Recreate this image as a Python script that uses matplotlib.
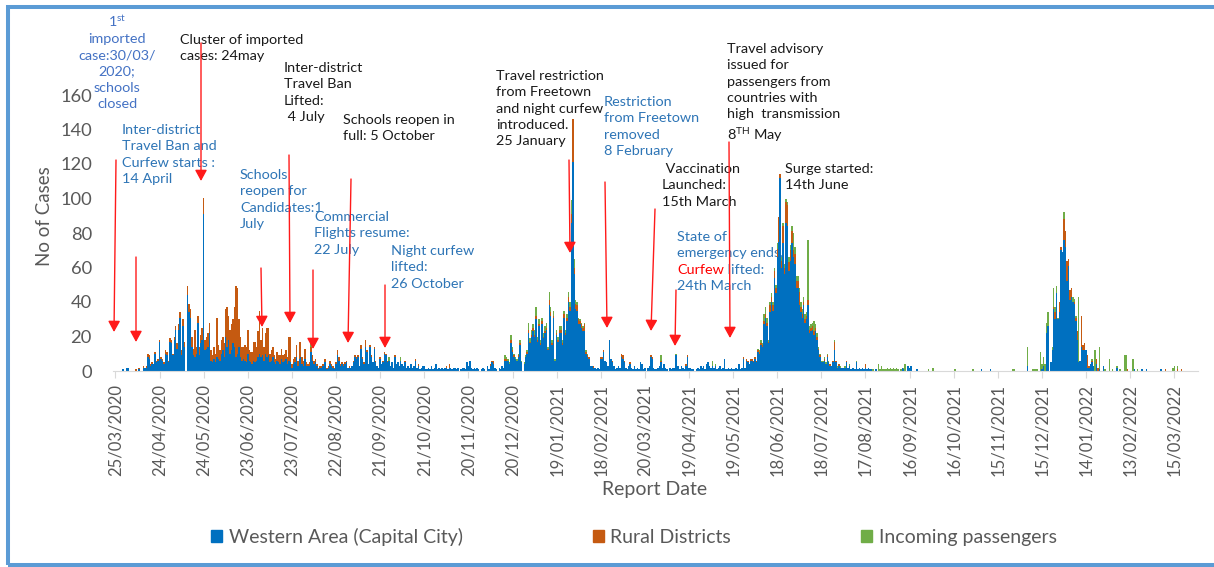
import numpy as np
import pandas as pd
import matplotlib
matplotlib.use("Agg")
import matplotlib.pyplot as plt
from matplotlib.patches import Patch, Rectangle

plt.rcParams['font.family'] = ['Lato', 'DejaVu Sans']
plt.rcParams['mathtext.default'] = 'regular'

# daily confirmed cases, 25/03/2020 onwards
western = [
    0, 0, 0, 0, 0, 1, 0, 0, 2, 2,
    0, 0, 0, 0, 0, 0, 1, 0, 0, 2,
    2, 2, 8, 7, 3, 4, 4, 10, 5, 6,
    17, 7, 6, 4, 10, 9, 5, 17, 16, 9,
    18, 24, 13, 24, 31, 9, 26, 14, 0, 44, 34,
    31, 14, 9, 8, 10, 28, 9, 16, 18, 91,
    12, 13, 14, 22, 6, 5, 7, 5, 8, 7,
    6, 10, 12, 8, 20, 14, 18, 10, 12, 16,
    14, 8, 10, 14, 8, 6, 7, 6, 5, 10,
    6, 5, 4, 6, 5, 6, 8, 10, 8, 9,
    6, 10, 8, 9, 5, 6, 8, 5, 4, 6,
    5, 4, 7, 5, 6, 7, 4, 6, 5, 2,
    4, 5, 8, 3, 7, 8, 4, 3, 7, 3,
    3, 3, 11, 6, 4, 5, 3, 1, 2, 2,
    3, 5, 5, 1, 2, 4, 3, 2, 1, 4,
    9, 6, 3, 4, 3, 4, 5, 2, 2, 2,
    3, 5, 8, 7, 8, 3, 13, 7, 4, 14,
    11, 4, 14, 8, 5, 13, 5, 3, 2, 7, 4,
    5, 10, 9, 5, 6, 3, 5, 2, 8, 4,
    5, 3, 6, 4, 3, 5, 2, 3, 2, 4,
    2, 3, 6, 2, 3, 1, 2, 3, 3, 1,
    1, 2, 1, 3, 1, 2, 4, 1, 2, 1,
    2, 1, 2, 2, 1, 2, 2, 1, 2, 2,
    1, 2, 0, 1, 2, 2, 1, 5, 3, 6,
    2, 1, 2, 1, 2, 1, 0, 1, 2, 1, 0,
    3, 1, 3, 5, 4, 2, 1, 0, 2, 1,
    3, 2, 6, 6, 6, 4, 16, 11, 8, 7,
    6, 8, 15, 5, 0, 4, 8, 10, 22, 16,
    20, 23, 20, 30, 17, 26, 15, 27, 19, 22,
    24, 12, 38, 32, 15, 31, 6, 21, 17, 22,
    22, 15, 31, 21, 29, 40, 35, 86, 121, 56,
    36, 35, 27, 27, 25, 23, 23, 10, 8, 7,
    3, 3, 2, 2, 1, 2, 1, 7, 7, 11,
    6, 5, 3, 18, 7, 5, 3, 1, 2, 3,
    2, 8, 7, 5, 2, 1, 3, 4, 2, 1,
    3, 1, 2, 1, 5, 4, 1, 2, 0, 2,
    3, 8, 7, 2, 1, 1, 2, 3, 5, 2,
    4, 2, 1, 0, 2, 1, 2, 2, 9, 3,
    3, 1, 3, 2, 1, 3, 8, 2, 2, 1,
    1, 0, 1, 2, 1, 3, 2, 3, 1, 4,
    5, 3, 2, 3, 2, 3, 1, 2, 3, 1,
    2, 7, 1, 1, 2, 1, 2, 1, 1, 2, 1,
    4, 1, 2, 7, 2, 6, 5, 4, 6, 6,
    5, 7, 5, 11, 10, 15, 14, 27, 31, 26,
    16, 34, 40, 35, 54, 45, 66, 75, 112, 60,
    74, 56, 86, 84, 58, 64, 74, 66, 62, 48,
    48, 38, 34, 31, 38, 28, 30, 38, 22, 23,
    24, 21, 23, 18, 12, 8, 5, 5, 6, 4,
    8, 5, 3, 3, 5, 12, 5, 2, 3, 2,
    2, 2, 2, 5, 2, 3, 1, 2, 2, 1,
    5, 1, 2, 1, 2, 1, 2, 1, 2, 1,
    1, 0, 0, 1, 0, 0, 0, 0, 0, 0,
    0, 0, 0, 0, 0, 0, 0, 0, 0, 0, 0,
    2, 1, 0, 0, 3, 2, 3, 0, 0, 0,
    1, 0, 0, 0, 0, 0, 0, 0, 0, 0,
    0, 0, 0, 0, 0, 0, 0, 0, 0, 0,
    0, 0, 0, 0, 0, 0, 0, 0, 0, 0,
    0, 0, 0, 0, 0, 0, 0, 0, 0, 0,
    0, 0, 0, 0, 1, 0, 0, 0, 0, 0,
    1, 0, 0, 0, 0, 0, 0, 0, 0, 0,
    0, 0, 0, 0, 0, 0, 0, 0, 0, 0,
    0, 0, 0, 0, 0, 3, 0, 0, 0, 0, 0,
    0, 0, 0, 0, 1, 3, 0, 22, 26, 0,
    5, 12, 36, 30, 45, 30, 34, 70, 69, 76,
    72, 52, 61, 41, 43, 40, 39, 29, 18, 5,
    6, 14, 12, 12, 12, 2, 2, 4, 5, 3,
    0, 4, 0, 1, 0, 0, 3, 0, 0, 0,
    0, 0, 0, 0, 0, 2, 0, 0, 0, 0,
    0, 0, 0, 0, 0, 0, 0, 1, 0, 0,
    0, 0, 1, 0, 0, 1, 0, 0, 0, 0,
    0, 0, 0, 0, 0, 1, 0, 0, 0, 0,
    0, 0, 0, 0, 0, 0, 0, 0, 0, 0,
    0, 0, 0, 0, 0, 0, 0, 0, 0, 0,
]

rural = [
    0, 0, 0, 0, 0, 0, 0, 0, 0, 0,
    0, 0, 0, 0, 1, 0, 1, 0, 0, 1,
    0, 1, 2, 2, 1, 1, 0, 1, 1, 1,
    1, 1, 1, 1, 2, 2, 1, 2, 2, 1,
    2, 2, 3, 3, 3, 3, 4, 3, 0, 5, 5,
    5, 6, 4, 16, 4, 4, 5, 5, 7, 9,
    6, 7, 8, 6, 6, 4, 7, 5, 23, 8,
    6, 8, 8, 8, 16, 23, 14, 14, 15, 14,
    23, 41, 38, 16, 12, 8, 7, 9, 9, 14,
    6, 6, 7, 11, 12, 8, 15, 25, 10, 16,
    8, 12, 17, 16, 5, 6, 6, 4, 3, 5,
    4, 5, 6, 4, 4, 5, 4, 14, 15, 2,
    3, 3, 7, 3, 10, 9, 4, 3, 6, 2,
    1, 2, 3, 3, 2, 2, 1, 1, 1, 1,
    1, 2, 2, 1, 1, 2, 1, 1, 1, 1,
    3, 2, 1, 1, 1, 1, 1, 0, 1, 0,
    0, 1, 1, 1, 1, 0, 2, 1, 1, 4,
    1, 0, 1, 1, 0, 1, 1, 0, 0, 1, 0,
    1, 1, 1, 1, 0, 0, 0, 0, 1, 0,
    0, 0, 0, 0, 0, 1, 0, 0, 0, 0,
    0, 0, 1, 0, 1, 0, 0, 0, 0, 0,
    0, 0, 0, 0, 0, 0, 0, 0, 0, 0,
    0, 0, 0, 1, 0, 2, 0, 0, 0, 0,
    0, 0, 0, 0, 0, 0, 0, 0, 0, 0,
    0, 0, 0, 0, 0, 0, 0, 0, 0, 0, 0,
    0, 0, 1, 1, 2, 0, 0, 0, 0, 0,
    0, 0, 1, 1, 0, 0, 2, 1, 1, 0,
    0, 1, 1, 0, 0, 0, 0, 1, 2, 1,
    1, 2, 1, 2, 1, 1, 1, 2, 1, 1,
    1, 1, 3, 2, 1, 1, 0, 1, 1, 2,
    2, 1, 2, 1, 2, 3, 2, 5, 25, 4,
    3, 3, 3, 2, 2, 2, 4, 1, 1, 1,
    0, 0, 1, 0, 0, 0, 0, 1, 1, 1,
    0, 0, 0, 0, 0, 1, 0, 0, 0, 0,
    0, 2, 2, 1, 0, 0, 0, 1, 0, 0,
    0, 0, 0, 0, 0, 0, 0, 0, 0, 0,
    0, 1, 1, 0, 0, 0, 0, 0, 1, 0,
    0, 0, 0, 0, 0, 0, 0, 0, 0, 0,
    0, 0, 0, 0, 0, 1, 1, 0, 0, 0,
    0, 0, 0, 0, 0, 0, 0, 0, 0, 0,
    0, 0, 0, 0, 0, 0, 0, 0, 0, 0,
    0, 0, 0, 0, 0, 0, 0, 0, 0, 0, 0,
    0, 0, 0, 1, 0, 1, 1, 0, 1, 1,
    1, 1, 1, 1, 1, 1, 1, 2, 2, 2,
    1, 4, 3, 3, 4, 3, 5, 14, 2, 4,
    10, 4, 12, 12, 5, 6, 7, 4, 6, 4,
    4, 8, 3, 2, 2, 2, 2, 3, 2, 2,
    2, 2, 2, 2, 1, 1, 0, 0, 1, 0,
    1, 0, 1, 0, 1, 5, 1, 0, 1, 0,
    0, 0, 0, 1, 0, 0, 0, 0, 0, 0,
    0, 0, 0, 0, 0, 0, 2, 0, 0, 0,
    0, 0, 0, 0, 0, 0, 0, 0, 0, 0,
    0, 0, 0, 0, 0, 0, 0, 0, 0, 0, 0,
    0, 0, 0, 0, 0, 0, 0, 0, 0, 0,
    0, 0, 0, 0, 0, 0, 0, 0, 0, 0,
    0, 0, 0, 0, 0, 0, 0, 0, 0, 0,
    0, 0, 0, 0, 0, 0, 0, 0, 0, 0,
    0, 0, 0, 0, 0, 0, 0, 0, 0, 0,
    0, 0, 0, 0, 0, 0, 0, 0, 0, 0,
    0, 0, 0, 0, 0, 0, 0, 0, 0, 0,
    0, 0, 0, 0, 0, 0, 0, 0, 0, 0,
    0, 0, 0, 0, 0, 0, 0, 0, 0, 0, 0,
    0, 0, 0, 0, 0, 0, 0, 0, 0, 0,
    0, 0, 1, 4, 0, 0, 6, 2, 0, 12,
    9, 12, 4, 6, 5, 0, 1, 2, 5, 0,
    0, 18, 3, 4, 0, 7, 1, 0, 1, 0,
    0, 3, 2, 0, 0, 0, 0, 0, 0, 0,
    0, 0, 0, 0, 0, 0, 0, 0, 0, 0,
    0, 0, 1, 0, 0, 0, 0, 0, 0, 0,
    0, 0, 0, 0, 0, 0, 0, 0, 0, 0,
    0, 0, 0, 0, 0, 0, 0, 0, 1, 0,
    0, 0, 0, 0, 0, 0, 1, 0, 0, 1,
    0, 0, 0, 0, 0, 0, 0, 0, 0, 0,
]

incoming = [
    0, 0, 0, 0, 0, 0, 0, 0, 0, 0,
    0, 0, 0, 0, 0, 0, 0, 0, 0, 0,
    0, 0, 0, 0, 0, 0, 0, 0, 0, 0,
    0, 0, 0, 0, 0, 0, 0, 0, 0, 0,
    0, 0, 0, 0, 0, 0, 0, 0, 0, 0, 0,
    0, 0, 0, 0, 0, 0, 0, 0, 0, 0,
    0, 0, 0, 0, 0, 0, 0, 0, 0, 0,
    0, 0, 0, 0, 0, 0, 0, 0, 0, 0,
    0, 0, 0, 0, 0, 0, 0, 0, 0, 0,
    0, 0, 0, 0, 0, 0, 0, 0, 0, 0,
    0, 0, 0, 0, 0, 0, 0, 0, 0, 0,
    0, 0, 0, 0, 0, 0, 0, 0, 0, 0,
    0, 0, 0, 0, 0, 0, 0, 0, 0, 0,
    0, 0, 2, 0, 0, 0, 0, 0, 0, 0,
    0, 0, 0, 0, 0, 0, 0, 0, 0, 0,
    0, 0, 0, 0, 0, 0, 0, 0, 0, 0,
    0, 0, 0, 0, 0, 0, 0, 0, 0, 0,
    0, 0, 0, 0, 0, 0, 0, 0, 0, 0, 0,
    0, 0, 0, 0, 2, 0, 0, 0, 0, 0,
    0, 0, 2, 0, 0, 0, 0, 0, 0, 0,
    0, 0, 0, 0, 0, 0, 0, 0, 0, 0,
    0, 0, 0, 0, 0, 0, 0, 0, 0, 0,
    0, 0, 0, 0, 0, 0, 0, 0, 0, 0,
    0, 0, 0, 0, 0, 0, 0, 0, 0, 0,
    0, 0, 0, 0, 0, 0, 0, 0, 0, 0, 0,
    0, 0, 0, 0, 0, 0, 0, 0, 0, 0,
    0, 0, 2, 1, 1, 1, 3, 2, 1, 1,
    1, 1, 2, 1, 0, 1, 1, 1, 4, 2,
    3, 2, 3, 5, 2, 3, 2, 2, 2, 3,
    3, 1, 5, 3, 2, 3, 1, 2, 2, 2,
    2, 2, 2, 2, 2, 3, 3, 8, 0, 5,
    2, 2, 1, 1, 1, 1, 1, 1, 1, 0,
    0, 0, 0, 0, 0, 0, 0, 0, 0, 0,
    0, 0, 0, 0, 0, 0, 0, 0, 0, 0,
    0, 0, 0, 0, 0, 0, 0, 0, 0, 0,
    0, 0, 0, 0, 0, 0, 0, 0, 0, 0,
    0, 0, 0, 0, 0, 0, 0, 0, 3, 0,
    0, 0, 0, 0, 0, 0, 0, 0, 1, 0,
    0, 0, 0, 0, 0, 0, 0, 0, 0, 0,
    0, 0, 0, 0, 0, 0, 0, 0, 0, 0,
    0, 0, 0, 3, 0, 1, 0, 0, 0, 0,
    0, 0, 0, 0, 0, 0, 0, 0, 0, 0, 0,
    0, 0, 0, 0, 0, 0, 0, 0, 0, 0,
    0, 0, 0, 1, 1, 2, 1, 4, 4, 3,
    1, 2, 2, 2, 2, 2, 3, 0, 0, 2,
    2, 2, 2, 2, 3, 3, 3, 10, 4, 3,
    3, 2, 3, 3, 3, 3, 2, 35, 2, 2,
    2, 6, 2, 2, 1, 1, 1, 1, 1, 1,
    1, 1, 0, 0, 0, 1, 0, 1, 0, 1,
    0, 0, 1, 0, 0, 1, 0, 0, 0, 0,
    1, 0, 0, 0, 0, 0, 0, 0, 0, 0,
    0, 1, 0, 0, 0, 4, 1, 3, 1, 1,
    1, 2, 1, 2, 1, 2, 1, 2, 1, 0, 1,
    0, 1, 4, 0, 0, 0, 0, 0, 0, 0,
    0, 0, 0, 0, 0, 0, 0, 0, 1, 0,
    0, 2, 0, 0, 0, 0, 0, 0, 0, 0,
    0, 0, 0, 0, 0, 0, 1, 0, 0, 0,
    0, 0, 0, 0, 0, 0, 0, 0, 1, 0,
    0, 0, 0, 0, 0, 0, 0, 0, 0, 0,
    0, 0, 0, 0, 0, 0, 0, 0, 0, 0,
    0, 0, 0, 0, 0, 1, 1, 0, 0, 0,
    0, 0, 0, 0, 0, 11, 0, 0, 0, 1, 1,
    1, 1, 0, 11, 3, 5, 4, 6, 8, 0,
    0, 2, 11, 3, 4, 1, 0, 0, 0, 4,
    0, 0, 0, 0, 0, 3, 2, 1, 0, 38,
    0, 0, 0, 0, 0, 0, 0, 0, 1, 0,
    12, 0, 0, 13, 0, 0, 0, 1, 0, 0,
    7, 0, 1, 0, 0, 1, 0, 1, 0, 0,
    9, 9, 0, 0, 0, 0, 7, 0, 0, 1,
    0, 0, 0, 0, 0, 0, 0, 0, 0, 0,
    0, 0, 0, 0, 0, 0, 0, 0, 0, 0,
    0, 0, 0, 2, 3, 0, 2, 0, 0, 0,
    0, 0, 0, 0, 0, 0, 0, 0, 0, 0,
]

series_names = ['Western Area (Capital City)', 'Rural Districts', 'Incoming passengers']
series_colors = ['#0070C0', '#C55A11', '#70AD47']
start_date = '2020-03-25'
tick_step = 30

n = min(len(western), len(rural), len(incoming))
w = np.array(western[:n])
r = np.array(rural[:n])
inc = np.array(incoming[:n])
days = np.arange(n)
dates = pd.date_range(start_date, periods=n, freq='D')

W_PX, H_PX = 1214, 567
fig = plt.figure(figsize=(W_PX / 100, H_PX / 100), dpi=100)
ax = fig.add_axes([112.8 / W_PX, 1 - 371 / H_PX, (1198 - 112.8) / W_PX, (371 - 95) / H_PX])

ax.bar(days, w, width=1.0, color=series_colors[0], lw=0, zorder=2)
ax.bar(days, r, width=1.0, bottom=w, color=series_colors[1], lw=0, zorder=2)
ax.bar(days, inc, width=1.0, bottom=w + r, color=series_colors[2], lw=0, zorder=2)

ax.set_xlim(-1.8, 736.1)
ax.set_ylim(0, 160)
ticks = days[::tick_step]
ax.set_xticks(ticks)
ax.set_xticklabels(dates[::tick_step].strftime('%d/%m/%Y'), rotation=90)
ax.set_yticks(np.arange(0, 161, 20))
for s in ['top', 'right', 'left']:
    ax.spines[s].set_visible(False)
ax.spines['bottom'].set_color('#D9D9D9')
ax.tick_params(axis='x', length=5, color='#D9D9D9', labelcolor='#595959', labelsize=12, pad=4)
ax.tick_params(axis='y', length=0, labelcolor='#595959', labelsize=13.2, pad=15)
ax.set_facecolor('none')

fig.text(45 / W_PX, 1 - 216 / H_PX, 'No of Cases', rotation=90, ha='center', va='center',
         fontsize=13.5, color='#595959')
fig.text(655 / W_PX, 1 - 489 / H_PX, 'Report Date', ha='center', va='center',
         fontsize=14, color='#595959')

handles = [Patch(color=c, label=l) for c, l in zip(series_colors, series_names)]
fig.legend(handles=handles, loc='center', bbox_to_anchor=(634 / W_PX, 1 - 537 / H_PX), ncol=3,
           frameon=False, fontsize=14, labelcolor='#595959', handlelength=0.55, handleheight=0.55,
           handletextpad=0.35, columnspacing=6.7)

BLACK = '#1A1A1A'
BLUE = '#2E75B6'
SLATE = '#4472C4'
FS = 10.4


def note(x, y, s, color, ha='left'):
    # y is the centre of the first line, in picture pixels
    return ax.text(x / W_PX, 1 - (y - 5) / H_PX, s, transform=fig.transFigure, fontsize=FS,
                   color=color, ha=ha, va='top', linespacing=1.43, zorder=1, multialignment=ha)


def arrow(x0, y0, x1, y1):
    ax.annotate('', xy=(x1 / W_PX, 1 - y1 / H_PX), xytext=(x0 / W_PX, 1 - y0 / H_PX),
                xycoords='figure fraction', textcoords='figure fraction', annotation_clip=False,
                arrowprops=dict(arrowstyle='-|>,head_length=0.55,head_width=0.3', color='#FF1A1A',
                                lw=1.0, mutation_scale=12, shrinkA=0, shrinkB=0), zorder=3)


note(117, 18, '1$^{st}$\nimported\ncase:30/03/\n2020;\nschools\nclosed', SLATE, ha='center')
note(122, 129, 'Inter-district\nTravel Ban and\nCurfew starts :\n14 April', BLUE)
note(180, 39, 'Cluster of imported\ncases: 24may', BLACK)
note(284, 67, 'Inter-district\nTravel Ban\nLifted:\n 4 July', BLACK)
note(240, 174, 'Schools\nreopen for\nCandidates:1\nJuly', BLUE)
note(343, 119, 'Schools reopen in\nfull: 5 October', BLACK)
note(314, 216, 'Commercial\nFlights resume:\n22 July', BLUE)
note(391, 250, 'Night curfew\nlifted:\n26 October', BLUE)
note(496, 75, 'Travel restriction\nfrom Freetown\nand night curfew\nintroduced.\n25 January', BLACK)
note(604, 101, 'Restriction\nfrom Freetown\nremoved\n8 February', BLUE)
note(662, 168, ' Vaccination\nLaunched:\n15th March', BLACK)
note(677, 236, 'State of\nemergency ends.', BLUE)
red = note(677, 269, 'Curfew', '#FF0000')
ax.annotate(' lifted:', xy=(1, 0), xycoords=red, va='bottom', ha='left', fontsize=FS,
            color=BLUE, zorder=1, annotation_clip=False)
note(677, 285, '24th March', BLUE)
note(727, 48, 'Travel advisory\nissued for\npassengers from\ncountries with\nhigh  transmission\n8$^{TH}$ May', BLACK)
note(785, 168, 'Surge started:\n14th June', BLACK)

arrow(116, 160, 114, 332)
arrow(136, 257, 136, 342)
arrow(201, 43, 201, 181)
arrow(261, 268, 262, 327)
arrow(289, 155, 290, 323)
arrow(313, 270, 313, 349)
arrow(351, 179, 348, 343)
arrow(385, 285, 385, 348)
arrow(569, 160, 570, 253)
arrow(605, 182, 607, 328)
arrow(655, 209, 651, 331)
arrow(676, 290, 675, 346)
arrow(729, 142, 730, 338)

fig.patches.append(Rectangle((8 / W_PX, 1 - 564.5 / H_PX), (1240 - 8) / W_PX, (564.5 - 6.5) / H_PX,
                             transform=fig.transFigure, fill=False, edgecolor='#5B9BD5', lw=2.9))

fig.savefig('out.png', dpi=100)
